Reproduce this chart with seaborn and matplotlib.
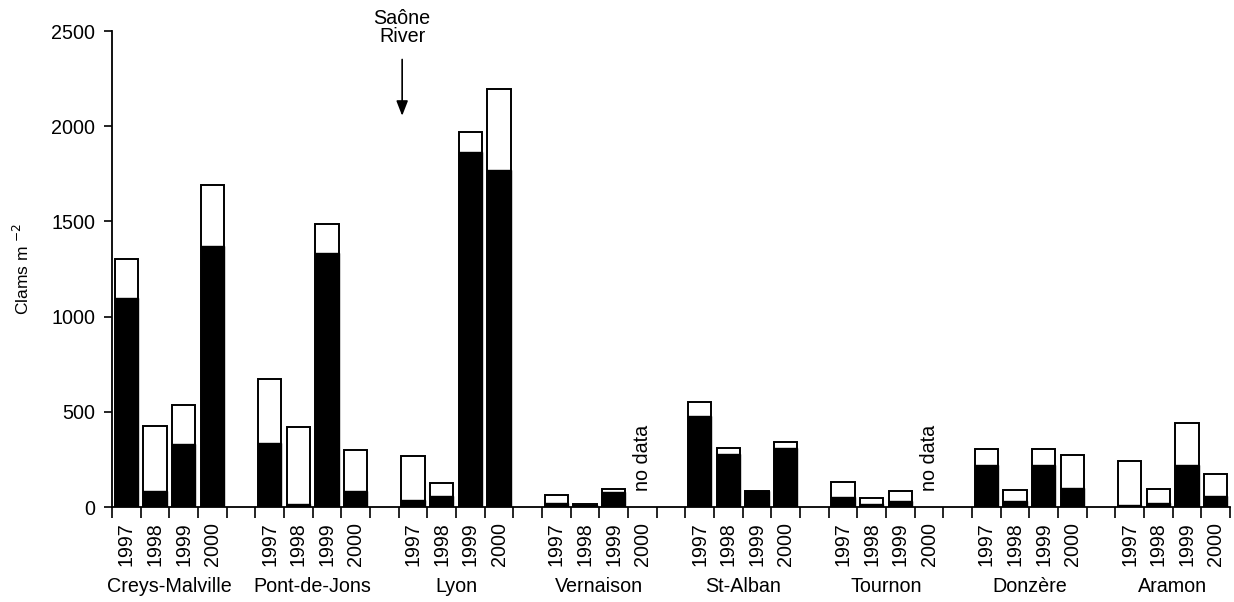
import numpy as np
import pandas as pd
import matplotlib
matplotlib.use("Agg")
import matplotlib.pyplot as plt
import matplotlib.transforms as mtransforms
import seaborn as sns

# Sites along the river and sampling years
sites = ["Creys-Malville", "Pont-de-Jons", "Lyon", "Vernaison",
         "St-Alban", "Tournon", "Donzère", "Aramon"]
years = ["1997", "1998", "1999", "2000"]

# Total clam density (clams m-2) per site, years 1997..2000 (None = no data)
total = {
    "Creys-Malville": [1305, 424, 535, 1689],
    "Pont-de-Jons":   [672, 418, 1484, 299],
    "Lyon":           [268, 128, 1967, 2196],
    "Vernaison":      [63, 15, 94, None],
    "St-Alban":       [553, 310, 86, 343],
    "Tournon":        [130, 46, 82, None],
    "Donzère":        [306, 89, 306, 273],
    "Aramon":         [240, 94, 441, 173],
}
# Density of the black (filled) fraction
black = {
    "Creys-Malville": [1100, 86, 329, 1370],
    "Pont-de-Jons":   [334, 15, 1332, 84],
    "Lyon":           [37, 60, 1862, 1769],
    "Vernaison":      [19, 12, 77, None],
    "St-Alban":       [478, 280, 82, 311],
    "Tournon":        [54, 16, 33, None],
    "Donzère":        [219, 33, 219, 98],
    "Aramon":         [10, 23, 222, 58],
}

# Slot order: four years per site, one empty slot between sites
order, tick_text = [], []
for i, s in enumerate(sites):
    for y in years:
        order.append(f"{s} {y}")
        tick_text.append(y)
    if i < len(sites) - 1:
        order.append(f"gap{i}")
        tick_text.append("")

rows = []
for s in sites:
    for y, t, b in zip(years, total[s], black[s]):
        if t is not None:
            rows.append({"slot": f"{s} {y}", "total": t, "black": b})
df = pd.DataFrame(rows)

sns.set_style("ticks")
plt.rcParams.update({
    "font.family": ["Liberation Sans", "DejaVu Sans"],
    "text.color": "black",
    "axes.labelcolor": "black",
    "axes.edgecolor": "black",
    "xtick.color": "black",
    "ytick.color": "black",
})

fs = 14.2
fig = plt.figure(figsize=(12.34, 6.02), dpi=100)
ax = fig.add_axes([0.0908, 0.1578, 0.9060, 0.7907])

bw = 0.82
sns.barplot(data=df, x="slot", y="total", order=order, color="white",
            edgecolor="black", linewidth=1.4, width=bw, saturation=1, ax=ax)
sns.barplot(data=df, x="slot", y="black", order=order, color="black",
            edgecolor="black", linewidth=1.0, width=bw, saturation=1, ax=ax)

ax.set_xlim(-0.5, len(order) - 0.5)
ax.set_ylim(0, 2500)
ax.set_yticks([0, 500, 1000, 1500, 2000, 2500])
ax.tick_params(axis="y", direction="out", length=6, width=1.2,
               labelsize=fs, pad=6, colors="black")

# Year labels under each bar, tick marks at slot boundaries
ax.set_xticks(np.arange(len(order)))
ax.set_xticklabels(tick_text, rotation=90, fontsize=fs)
ax.tick_params(axis="x", which="major", length=0, pad=11, colors="black")
ax.set_xticks(np.arange(len(order) + 1) - 0.5, minor=True)
ax.tick_params(axis="x", which="minor", direction="out", length=8, width=1.2,
               colors="black")

for side in ["top", "right"]:
    ax.spines[side].set_visible(False)
for side in ["left", "bottom"]:
    ax.spines[side].set_linewidth(1.3)
    ax.spines[side].set_color("black")

ax.set_xlabel("")
ax.set_ylabel("Clams m $^{\\mathsf{-2}}$", fontsize=12.5, labelpad=14,
              color="black")

# Site names below the year labels
trans = mtransforms.blended_transform_factory(ax.transData, fig.transFigure)
for i, s in enumerate(sites):
    ax.text(i * 5 + 1.5, 0.026, s, transform=trans, ha="center",
            va="center", fontsize=fs, color="black")

# Missing sampling years
for s in ["Vernaison", "Tournon"]:
    x = order.index(f"{s} 2000")
    ax.text(x, 85, "no data", rotation=90, ha="center", va="bottom",
            fontsize=fs, color="black")

# Confluence marker
ax.annotate("", xy=(9.62, 2040), xytext=(9.62, 2365),
            arrowprops=dict(arrowstyle="-|>,head_length=0.9,head_width=0.35",
                            color="black", lw=1.2))
ax.text(9.62, 2420, "Saône\nRiver", ha="center", va="bottom",
        fontsize=fs, linespacing=0.95, clip_on=False, color="black")

fig.savefig("out.png", dpi=100)
